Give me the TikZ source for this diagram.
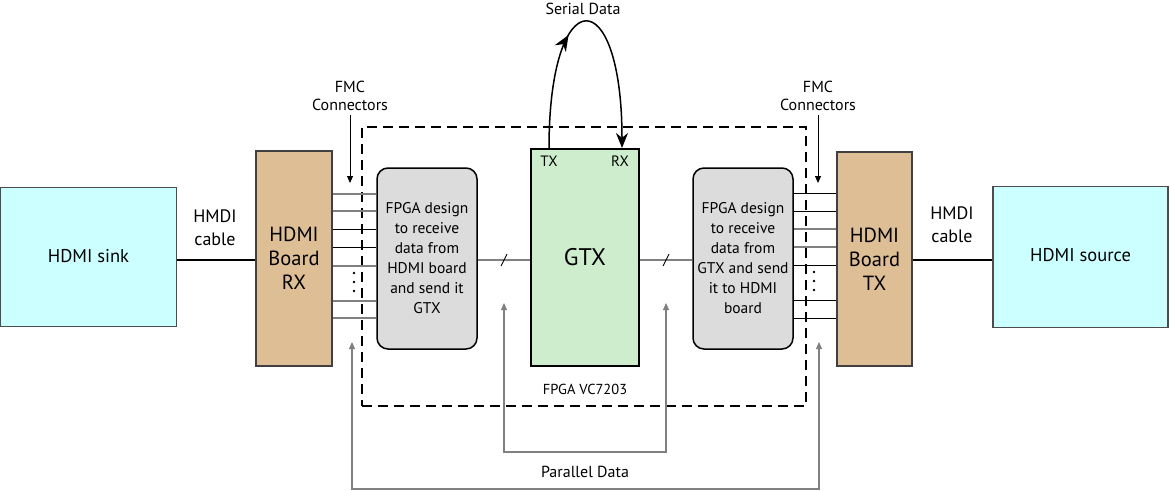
\documentclass[tikz,border=0pt]{standalone}
\usepackage{fontspec}
\setmainfont{PT Sans}
\usetikzlibrary{arrows.meta,calc,decorations.markings}
\definecolor{sinkfill}{HTML}{CCFFFF}
\definecolor{boardfill}{HTML}{DEBE95}
\definecolor{fpgafill}{HTML}{DCDCDC}
\definecolor{gtxfill}{HTML}{CDEDCD}
\definecolor{busgray}{HTML}{808080}
\tikzset{
  endbox/.style={draw=black!70,line width=1.3pt,fill=sinkfill,inner sep=0pt,
    font=\fontsize{18.5}{22}\selectfont},
  board/.style={draw=black!75,line width=1.5pt,fill=boardfill,inner sep=0pt,align=center,
    font=\fontsize{20.5}{24}\selectfont},
  design/.style={draw=black,line width=1.5pt,fill=fpgafill,rounded corners=11pt,inner sep=0pt,
    align=center,font=\fontsize{15.5}{20}\selectfont},
  gtxbox/.style={draw=black,line width=1.5pt,fill=gtxfill,inner sep=0pt,
    font=\fontsize{24}{28}\selectfont},
  lbl/.style={inner sep=0pt,align=center,font=\fontsize{16}{18}\selectfont},
  cable/.style={line width=2.6pt},
  busg/.style={draw=busgray,line width=1.3pt},
  busk/.style={draw=black,line width=1pt},
  pointer/.style={-{Triangle[length=7pt,width=6pt]},line width=0.8pt},
  pdata/.style={{Triangle[length=7pt,width=6pt]}-{Triangle[length=7pt,width=6pt]},
    draw=busgray,line width=1.1pt},
  dot/.style={circle,fill=black,inner sep=0pt,minimum size=2.6pt},
}
\begin{document}
\begin{tikzpicture}[x=1pt,y=-1pt]
\useasboundingbox (0,0) rectangle (1170,490);

% outer FPGA board outline
\node[draw,dashed,dash pattern=on 10pt off 6pt,line width=1.8pt,minimum width=444pt,
  minimum height=279pt,inner sep=0pt] (vc) at (584,266.5) {};
\node[lbl,font=\fontsize{14.5}{18}\selectfont] (vclabel) at (585,389) {FPGA VC7203};

% main blocks
\node[endbox,minimum width=176pt,minimum height=139pt] (sink) at (88.5,257) {\raisebox{3pt}{HDMI sink}};
\node[board,minimum width=76pt,minimum height=215pt] (rx) at (294,258.5) {HDMI\\Board\\RX};
\node[design,minimum width=100pt,minimum height=181pt] (fl) at (427,258.5)
  {FPGA design\\to receive\\data from\\HDMI board\\and send it\\GTX};
\node[gtxbox,minimum width=108pt,minimum height=217pt] (gtx) at (585,257.5) {GTX};
\node[design,minimum width=100pt,minimum height=181pt] (fr) at (743,258.5)
  {FPGA design\\to receive\\data from\\GTX and send\\it to HDMI\\board};
\node[board,minimum width=75pt,minimum height=214pt] (tx) at (874.5,259) {HDMI\\Board\\TX};
\node[endbox,minimum width=175pt,minimum height=141pt] (src) at (1080.5,257) {\raisebox{5pt}{HDMI source}};

% transceiver ports
\node[lbl,font=\fontsize{15}{18}\selectfont] (txport) at (549,161) {TX};
\node[lbl,font=\fontsize{15}{18}\selectfont] (rxport) at (620,161) {RX};

% HDMI cables
\draw[cable] (sink.east |- 0,260) -- (rx.west |- 0,260);
\draw[cable] (tx.east |- 0,260) -- (src.west |- 0,260);
\node[lbl,font=\fontsize{18}{23}\selectfont] (cabl) at (215,228) {HMDI\\cable};
\node[lbl,font=\fontsize{18}{23}\selectfont] (cabr) at (952,225) {HMDI\\cable};

% FMC bus, receive side
\foreach \yy/\st in {194/busg,211/busg,229/busk,247/busk,266/busg,301/busg,318/busg}
  \draw[\st] (rx.east |- 0,\yy) -- (fl.west |- 0,\yy);
\foreach \yy in {273,282,291} \node[dot] at (354,\yy) {};
% FMC bus, transmit side
\foreach \yy/\st in {193/busk,211/busk,229/busg,247/busg,265/busk,300/busk,318/busk}
  \draw[\st] (fr.east |- 0,\yy) -- (tx.west |- 0,\yy);
\foreach \yy in {272,281,290} \node[dot] at (814,\yy) {};

% FMC labels
\node[lbl] (fmcl) at (350,96) {FMC\\Connectors};
\node[lbl] (fmcr) at (818,96) {FMC\\Connectors};
\coordinate (fmclt) at (350,183);
\coordinate (fmcrt) at (818,183);
\draw[pointer] (fmcl.south) ++(0,4) -- (fmclt);
\draw[pointer] (fmcr.south) ++(0,4) -- (fmcrt);

% parallel buses to and from GTX
\draw[busg] (fl.east |- 0,260) -- (gtx.west |- 0,260);
\draw[busg] (gtx.east |- 0,260) -- (fr.west |- 0,260);
\coordinate (s1) at ($(fl.east |- 0,260)!0.5!(gtx.west |- 0,260)$);
\coordinate (s2) at ($(gtx.east |- 0,260)!0.5!(fr.west |- 0,260)$);
\draw[black,line width=0.9pt] (s1) ++(-3,6) -- ++(6,-12);
\draw[black,line width=0.9pt] (s2) ++(-3,6) -- ++(6,-12);

% serial loopback
\draw[line width=1.5pt,
  postaction={decorate},
  decoration={markings,mark=at position 0.42 with {\arrow{Stealth[length=16pt,width=13pt]}}},
  -{Stealth[length=15pt,width=12pt]}]
  (txport.north |- gtx.north) .. controls (549,-20) and (622,-20) .. (622,148);
\node[lbl] (serial) at (583,9) {Serial Data};

% parallel data feedback paths
\coordinate (pa) at (504,303);
\coordinate (pb) at (666,303);
\coordinate (pc) at (352,342);
\coordinate (pd) at (819,342);
\draw[pdata] (pa) -- (pa |- 0,452) -- (pb |- 0,452) -- (pb);
\draw[pdata] (pc) -- (pc |- 0,489) -- (pd |- 0,489) -- (pd);
\node[lbl] (pdl) at (585,472) {Parallel Data};
\end{tikzpicture}
\end{document}
